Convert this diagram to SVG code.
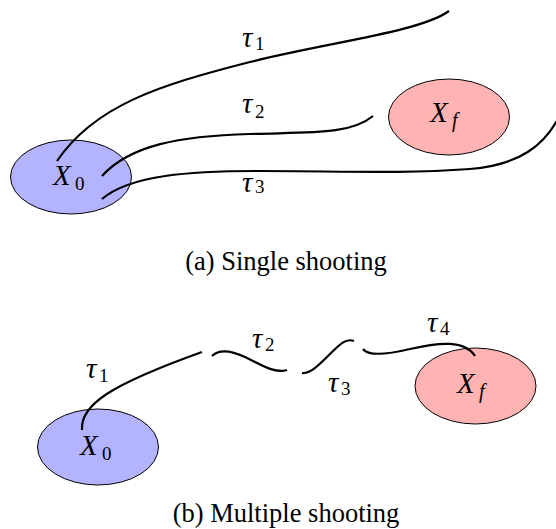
<svg xmlns="http://www.w3.org/2000/svg" width="556" height="529" viewBox="0 0 556 529">
  <style>
    .start { fill: #b3b3ff; stroke: #000; stroke-width: 1; }
    .goal { fill: #ffb3b3; stroke: #000; stroke-width: 1; }
    .traj { fill: none; stroke: #000; stroke-width: 2.2; stroke-linecap: butt; }
    .m { font-style: italic; font-size: 29px; }
    .s { font-size: 19px; }
    .si { font-style: italic; font-size: 20px; }
    .cap { font-size: 26.5px; text-anchor: middle; }
  </style>
  <rect width="556" height="529" fill="#fff"/>
  <g font-family="Liberation Serif, Tinos, Times New Roman, Nimbus Roman, FreeSerif, Noto Serif, DejaVu Serif, serif" fill="#000">

  <!-- (a) Single shooting -->
  <g id="a-X0">
    <ellipse class="start" cx="71" cy="177" rx="60.5" ry="37"/>
    <text class="m" x="53" y="185">X</text><text class="s" x="75" y="190">0</text>
  </g>
  <g id="a-Xf">
    <ellipse class="goal" cx="449" cy="117" rx="60.5" ry="38"/>
    <text class="m" x="430" y="122">X</text><text class="si" x="452" y="127">f</text>
  </g>
  <g id="a-connectors">
    <path class="traj" d="M57,161 C95,105 160,85 250,62 C330,42 420,32 449,11"/>
    <path class="traj" d="M102,176 C130,145 180,136 250,134 C310,132 350,135 373,116"/>
    <path class="traj" d="M102,199 C130,175 190,171 260,171 C340,171 400,174 470,169 C520,165 545,145 560,115"/>
  </g>
  <g id="a-labels">
    <text class="m" x="242" y="46.5">τ</text><text class="s" x="255" y="50">1</text>
    <text class="m" x="242" y="113">τ</text><text class="s" x="255" y="118">2</text>
    <text class="m" x="242" y="191.5">τ</text><text class="s" x="255" y="193">3</text>
  </g>
  <text class="cap" x="286" y="270">(a) Single shooting</text>

  <!-- (b) Multiple shooting -->
  <g id="b-X0">
    <ellipse class="start" cx="98" cy="447" rx="60.5" ry="38"/>
    <text class="m" x="80" y="455">X</text><text class="s" x="102" y="460">0</text>
  </g>
  <g id="b-Xf">
    <ellipse class="goal" cx="475.5" cy="386" rx="60.5" ry="38"/>
    <text class="m" x="457" y="393">X</text><text class="si" x="479" y="398">f</text>
  </g>
  <g id="b-connectors">
    <path class="traj" d="M82,430 C80,405 110,385 202,352"/>
    <path class="traj" d="M212,356 C218,350 228,349 245,357 S275,374 287,370"/>
    <path class="traj" d="M302,373 C310,374 318,366 330,354 C340,344 346,338 354,341"/>
    <path class="traj" d="M363,349 C368,356 385,355 410,349 C440,342 465,340 475,356"/>
  </g>
  <g id="b-labels">
    <text class="m" x="86" y="378">τ</text><text class="s" x="99" y="382">1</text>
    <text class="m" x="252" y="348">τ</text><text class="s" x="265" y="351">2</text>
    <text class="m" x="328" y="391.5">τ</text><text class="s" x="341" y="395">3</text>
    <text class="m" x="427" y="331.5">τ</text><text class="s" x="440" y="335">4</text>
  </g>
  <text class="cap" x="286" y="522">(b) Multiple shooting</text>
  </g>
</svg>
